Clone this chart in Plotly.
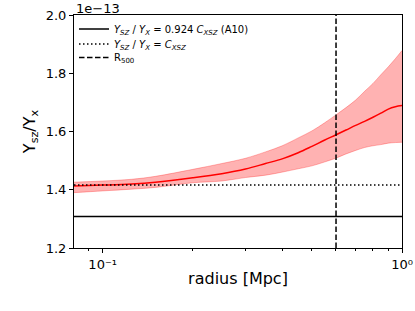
import numpy as np
import plotly.graph_objects as go

# Data (y in units of 1e-13)
radius = [0.08, 0.1, 0.125, 0.15, 0.2, 0.25, 0.3, 0.35, 0.4, 0.45, 0.5,
          0.55, 0.6, 0.65, 0.7, 0.75, 0.8, 0.85, 0.9, 0.95, 1.0]
ratio_mean = [1.413, 1.416, 1.420, 1.426, 1.441, 1.455, 1.471, 1.490, 1.507,
              1.527, 1.549, 1.570, 1.588, 1.605, 1.621, 1.635, 1.649, 1.663,
              1.677, 1.685, 1.689]
ratio_upper = [1.426, 1.430, 1.436, 1.446, 1.470, 1.490, 1.508, 1.530, 1.552,
               1.578, 1.602, 1.629, 1.656, 1.682, 1.708, 1.738, 1.765, 1.795,
               1.822, 1.850, 1.878]
ratio_lower = [1.390, 1.396, 1.402, 1.408, 1.424, 1.430, 1.442, 1.450, 1.461,
               1.472, 1.482, 1.495, 1.508, 1.523, 1.535, 1.545, 1.551, 1.555,
               1.560, 1.562, 1.563]
c_xsz = 1.416
a10_factor = 0.924
r500 = 0.602
x_range = [0.0802, 1.0]
y_range = [1.2, 2.0]
y_ticks = [1.2, 1.4, 1.6, 1.8, 2.0]
x_ticks = [0.1, 1.0]
x_ticklabels = ["10\u207b\u00b9", "10\u2070"]
x_minor = [0.09, 0.2, 0.3, 0.4, 0.5, 0.6, 0.7, 0.8, 0.9]
legend_labels = [
    "<i>Y<sub>SZ</sub></i> / <i>Y<sub>X</sub></i> = 0.924 <i>C<sub>XSZ</sub></i> (A10)",
    "<i>Y<sub>SZ</sub></i> / <i>Y<sub>X</sub></i> = <i>C<sub>XSZ</sub></i>",
    "R<sub>500</sub>",
]

font = "DejaVu Sans"
fig = go.Figure()

fig.add_trace(go.Scatter(x=radius, y=ratio_lower, mode="lines",
                         line=dict(color="rgba(255,0,0,0.35)", width=0.8, shape="spline"),
                         showlegend=False, hoverinfo="skip"))
fig.add_trace(go.Scatter(x=radius, y=ratio_upper, mode="lines", fill="tonexty",
                         fillcolor="rgba(255,0,0,0.3)",
                         line=dict(color="rgba(255,0,0,0.35)", width=0.8, shape="spline"),
                         showlegend=False, hoverinfo="skip"))
fig.add_trace(go.Scatter(x=radius, y=ratio_mean, mode="lines",
                         line=dict(color="#ff0000", width=1.5, shape="spline"),
                         showlegend=False))

fig.add_trace(go.Scatter(x=x_range, y=[a10_factor * c_xsz] * 2, mode="lines",
                         line=dict(color="black", width=1.5),
                         name=legend_labels[0], legend="legend"))
fig.add_trace(go.Scatter(x=x_range, y=[c_xsz] * 2, mode="lines",
                         line=dict(color="black", width=1.5, dash="1.5px,2.5px"),
                         name=legend_labels[1], legend="legend2"))
fig.add_trace(go.Scatter(x=[r500, r500], y=y_range, mode="lines",
                         line=dict(color="black", width=1.5, dash="5.5px,2.5px"),
                         name=legend_labels[2], legend="legend3"))

leg_common = dict(x=0.0, xanchor="left", yanchor="middle",
                  bgcolor="rgba(0,0,0,0)", font=dict(size=10), itemwidth=30)

fig.update_layout(
    width=415, height=311,
    margin=dict(l=74, r=13, t=15, b=63, autoexpand=False),
    paper_bgcolor="white", plot_bgcolor="white",
    font=dict(family=font, size=13, color="black"),
    showlegend=True,
    legend=dict(y=0.940, **leg_common),
    legend2=dict(y=0.876, **leg_common),
    legend3=dict(y=0.818, **leg_common),
    xaxis=dict(type="log", range=[np.log10(x_range[0]), np.log10(x_range[1])],
               showline=True, linecolor="black", linewidth=1, mirror=True,
               ticks="outside", ticklen=4, tickcolor="black",
               tickmode="array", tickvals=x_ticks, ticktext=x_ticklabels,
               ticklabeloverflow="allow",
               minor=dict(tickmode="array", tickvals=x_minor, ticks="outside",
                          ticklen=2, tickcolor="black"),
               showgrid=False, zeroline=False,
               title=dict(text="radius [Mpc]", standoff=2)),
    yaxis=dict(range=y_range, showline=True, linecolor="black", linewidth=1,
               mirror=True, ticks="outside", ticklen=4, tickcolor="black",
               tickmode="array", tickvals=y_ticks, tickformat=".1f",
               showgrid=False, zeroline=False,
               title=dict(text="Y<sub>sz</sub>/Y<sub>x</sub>", standoff=6)),
    annotations=[dict(text="1e\u221213", xref="paper", yref="paper", x=0, y=1,
                      xanchor="left", yanchor="bottom", showarrow=False,
                      font=dict(size=13), yshift=-3)],
)

fig.write_html("out.html", config={"displayModeBar": False})
with open("out.html", "r", encoding="utf-8") as f:
    html = f.read()
html = html.replace("<head>", "<head><style>html,body{margin:0;padding:0;overflow:hidden}</style>", 1)
with open("out.html", "w", encoding="utf-8") as f:
    f.write(html)
